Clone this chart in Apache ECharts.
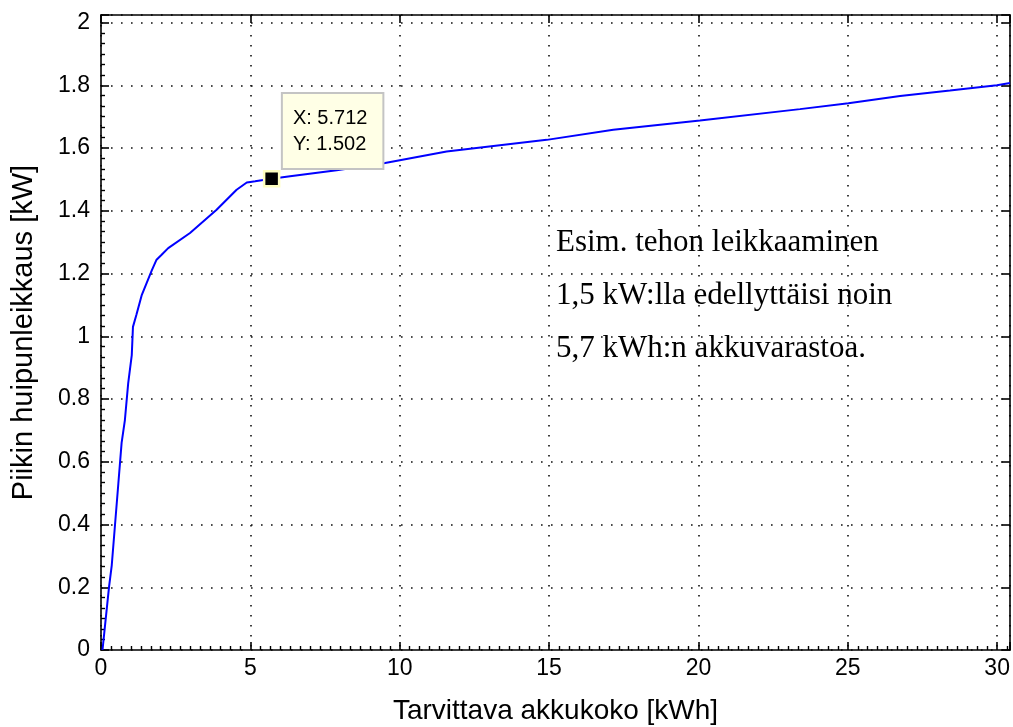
<!DOCTYPE html>
<html>
<head>
<meta charset="utf-8">
<script src="https://cdn.jsdelivr.net/npm/echarts@6/dist/echarts.min.js"></script>
<style>
  html, body { margin: 0; padding: 0; background: #fff; }
  #chart { width: 1013px; height: 727px; }
</style>
</head>
<body>
<div id="chart"></div>
<script>
// Battery size needed vs. peak power shaving
const batteryKWh = [0.05, 0.08, 0.13, 0.27, 0.36, 0.47, 0.58, 0.69, 0.8, 0.91, 1.03, 1.07, 1.19, 1.36, 1.53, 1.7, 1.86, 2.03, 2.25, 2.98, 3.87, 4.54, 4.88, 5.0, 5.16, 5.712, 6.33, 7.89, 9.51, 11.57, 14.92, 17.15, 20.05, 23.4, 25.02, 26.75, 28.42, 29.99, 30.43];
const peakCutKW  = [0, 0, 0.074, 0.202, 0.27, 0.4, 0.53, 0.66, 0.733, 0.85, 0.94, 1.03, 1.07, 1.13, 1.17, 1.21, 1.244, 1.26, 1.281, 1.329, 1.403, 1.467, 1.49, 1.492, 1.494, 1.502, 1.51, 1.529, 1.552, 1.589, 1.626, 1.658, 1.688, 1.724, 1.743, 1.766, 1.783, 1.8, 1.807];

// Highlighted data point
const tipX = [5.712];
const tipY = [1.502];

const xTicks = [0, 5, 10, 15, 20, 25, 30];
const yTicks = [0, 0.2, 0.4, 0.6, 0.8, 1, 1.2, 1.4, 1.6, 1.8, 2];

const xName = 'Tarvittava akkukoko [kWh]';
const yName = 'Piikin huipunleikkaus [kW]';
const noteLines = ['Esim. tehon leikkaaminen', '1,5 kW:lla edellyttäisi noin', '5,7 kWh:n akkuvarastoa.'];

const X_MIN = 0, X_MAX = 30.43, Y_MIN = 0, Y_MAX = 2.024;

const axisFont = { fontFamily: 'Liberation Sans', fontSize: 23, color: '#000' };
const gridLine = { show: true, lineStyle: { color: '#111', width: 1.6, type: [1.6, 8.4] } };

const chart = echarts.init(document.getElementById('chart'), null, { renderer: 'canvas' });

const lineData = batteryKWh.map((x, i) => [x, peakCutKW[i]]);
const tipData = tipX.map((x, i) => [x, tipY[i]]);

chart.setOption({
  animation: false,
  backgroundColor: '#fff',
  grid: { left: 101, top: 15, right: 3, bottom: 77, containLabel: false, outerBoundsMode: 'none' },
  xAxis: [{
    type: 'value', min: X_MIN, max: X_MAX, interval: 5,
    name: xName, nameLocation: 'middle', nameGap: 47,
    nameTextStyle: { fontFamily: 'Liberation Sans', fontSize: 28, color: '#000' },
    axisLine: { show: true, onZero: false, lineStyle: { color: '#000', width: 1.6 } },
    axisTick: { show: true, inside: true, length: 8, lineStyle: { color: '#000', width: 1.6 } },
    minorTick: { show: true, splitNumber: 15, length: 4, lineStyle: { color: '#000', width: 1.4 } },
    axisLabel: Object.assign({ margin: 7, formatter: v => xTicks.includes(v) ? String(v) : '' }, axisFont),
    splitLine: gridLine
  }, {
    type: 'value', position: 'top', min: X_MIN, max: X_MAX, interval: 5,
    axisLine: { show: true, onZero: false, lineStyle: { color: '#000', width: 1.6 } },
    axisTick: { show: true, inside: true, length: 8, lineStyle: { color: '#000', width: 1.6 } },
    axisLabel: { show: false },
    splitLine: { show: false }
  }],
  yAxis: [{
    type: 'value', min: Y_MIN, max: Y_MAX, interval: 0.2,
    name: yName, nameLocation: 'middle', nameGap: 63, nameRotate: 90,
    nameTextStyle: { fontFamily: 'Liberation Sans', fontSize: 29, color: '#000' },
    axisLine: { show: true, onZero: false, lineStyle: { color: '#000', width: 1.6 } },
    axisTick: { show: true, inside: true, length: 8, lineStyle: { color: '#000', width: 1.6 } },
    minorTick: { show: true, splitNumber: 6, length: 4, lineStyle: { color: '#000', width: 1.4 } },
    axisLabel: Object.assign({ margin: 11, formatter: v => {
      const t = yTicks.find(k => Math.abs(k - v) < 1e-9);
      return t === undefined ? '' : String(t);
    } }, axisFont),
    splitLine: gridLine
  }, {
    type: 'value', position: 'right', min: Y_MIN, max: Y_MAX, interval: 0.2,
    axisLine: { show: true, onZero: false, lineStyle: { color: '#000', width: 1.6 } },
    axisTick: { show: true, inside: true, length: 8, lineStyle: { color: '#000', width: 1.6 } },
    axisLabel: { show: false },
    splitLine: { show: false }
  }],
  series: [{
    type: 'line',
    data: lineData,
    showSymbol: false,
    symbol: 'none',
    lineStyle: { color: '#0000ff', width: 2 },
    z: 3
  }, {
    type: 'scatter',
    data: tipData,
    symbol: 'rect',
    symbolSize: 15,
    itemStyle: { color: '#000', borderColor: '#ffffc0', borderWidth: 2.5, opacity: 1 },
    emphasis: { disabled: true },
    z: 5,
    label: {
      show: true,
      position: [20, -76],
      align: 'left',
      verticalAlign: 'top',
      formatter: p => 'X: ' + p.value[0].toFixed(3) + '\nY: ' + p.value[1].toFixed(3),
      fontFamily: 'Liberation Sans',
      fontSize: 20,
      lineHeight: 26,
      color: '#000',
      backgroundColor: '#ffffe6',
      borderColor: '#c4c4c4',
      borderWidth: 2,
      padding: [11, 15, 11, 10]
    }
  }],
  graphic: noteLines.map((t, i) => ({
    type: 'text',
    left: 556,
    top: 227 + i * 53,
    z: 10,
    style: {
      text: t,
      fontFamily: 'Liberation Serif',
      fontSize: 31,
      fill: '#000'
    }
  }))
});
</script>
</body>
</html>
